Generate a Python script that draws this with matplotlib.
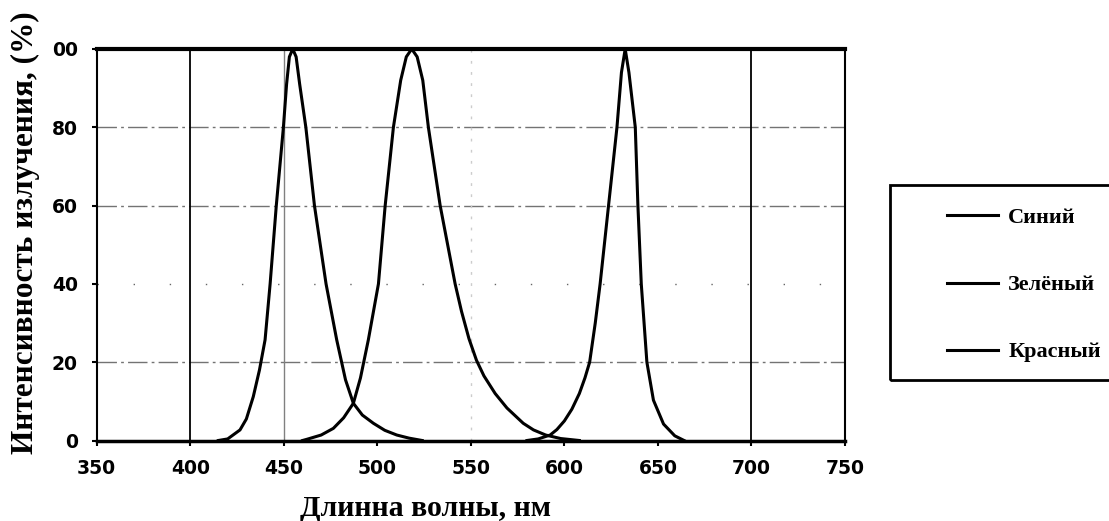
import matplotlib
matplotlib.use("Agg")
from matplotlib import pyplot as plt
from matplotlib.patches import Rectangle

# spectra (wavelength nm, intensity %)
blue_wl = [415, 420, 426.6, 430, 433.7, 437, 440, 442.7, 446, 449.8, 451.5, 453, 454.8,
           456.6, 458.5, 461.8, 466.4, 472.6, 478.3, 483, 487.2, 492, 497.9, 504, 510.4,
           517, 524]
blue_val = [0, 0.4, 2.7, 5.5, 11.2, 18, 25.7, 40, 60, 80, 91, 98, 100,
            98, 91, 80, 60, 40, 25.7, 15.5, 9.5, 6.5, 4.4, 2.6, 1.4,
            0.6, 0]

green_wl = [460, 462.3, 470, 476.5, 482, 487.2, 491, 495.2, 500.6, 504.2, 508.6, 512.5,
            515.5, 518.4, 521.3, 524.3, 527.3, 533.6, 541.6, 545, 549, 553, 557, 563,
            569.3, 578, 583.5, 590, 598, 608]
green_val = [0, 0.3, 1.4, 3.1, 5.8, 9.5, 16, 25.7, 40, 60, 80, 92,
             98, 100, 98, 92, 80, 60, 40, 33, 26, 20.5, 16.5, 12,
             8.3, 4.4, 2.7, 1.4, 0.5, 0]

red_wl = [580, 586, 592.4, 596, 600, 604, 608, 611, 613.5, 616.5, 619.1, 623.6, 628.1,
          630.5, 632.5, 634.5, 637.9, 639.3, 641.1, 644.1, 647.6, 653, 659, 664]
red_val = [0, 0.4, 1.4, 2.8, 5, 8, 12, 16, 20, 30, 40, 60, 80,
           94, 100, 94, 80, 60, 40, 20, 10.3, 4.2, 1.2, 0]

series_names = ["Синий", "Зелёный", "Красный"]
x_ticks = [350, 400, 450, 500, 550, 600, 650, 700, 750]
y_ticks = [0, 20, 40, 60, 80, 100]
y_tick_labels = ["0", "20", "40", "60", "80", "00"]

fig = plt.figure(figsize=(11.09, 5.21), dpi=100)
ax = fig.add_axes([96.7 / 1109, 1 - 440.5 / 521, (845 - 96.7) / 1109, (440.5 - 49) / 521])

# grid, drawn by hand to follow the scanned look
for yv in [20, 60, 80]:
    ax.axhline(yv, color="0.45", lw=1.0, ls=(0, (14, 3, 2, 3)), zorder=1)
ax.axhline(40, color="0.4", lw=1.0, ls=(0, (1, 25)), zorder=1)
for xv in [400, 700]:
    ax.axvline(xv, color="black", lw=1.3, zorder=1)
ax.axvline(450, color="0.5", lw=1.0, zorder=1)
ax.axvline(550, color="0.8", lw=1.0, ls=(0, (2, 6)), zorder=1)

lines = []
for wl, val, name in [(blue_wl, blue_val, series_names[0]),
                      (green_wl, green_val, series_names[1]),
                      (red_wl, red_val, series_names[2])]:
    ln, = ax.plot(wl, val, color="black", lw=2.2, label=name, zorder=3,
                  solid_joinstyle="round")
    lines.append(ln)

ax.set_xlim(350, 750)
ax.set_ylim(0, 100)
ax.set_xticks(x_ticks)
ax.set_xticklabels([str(t) for t in x_ticks])
ax.set_yticks(y_ticks)
ax.set_yticklabels(y_tick_labels)
ax.tick_params(direction="out", length=3.6, width=1.5, labelsize=13.5, pad=10)
for lab in ax.get_xticklabels() + ax.get_yticklabels():
    lab.set_fontweight("bold")

ax.spines["top"].set_linewidth(3)
ax.spines["bottom"].set_linewidth(2.5)
ax.spines["left"].set_linewidth(1.5)
ax.spines["right"].set_linewidth(1.5)

fig.text(426 / 1109, 1 - 508 / 521, "Длинна волны, нм", family="Liberation Serif",
         fontweight="bold", fontsize=21.5, ha="center", va="center")
fig.text(25 / 1109, 1 - 233 / 521, "Интенсивность излучения, (%)", family="Liberation Serif",
         fontweight="bold", fontsize=22.5, rotation=90, ha="center", va="center")

# legend box runs off the right edge like in the reference
fig.patches.append(Rectangle((890 / 1109, 1 - 380 / 521), 0.3, (380 - 185) / 521,
                             transform=fig.transFigure, fill=False, ec="black", lw=2))
leg = fig.legend(handles=lines, loc="center left", bbox_to_anchor=(947 / 1109, 1 - 285 / 521),
                 frameon=False, borderpad=0, borderaxespad=0, handlelength=2.3,
                 handletextpad=0.45, labelspacing=2.1,
                 prop={"family": "Liberation Serif", "weight": "bold", "size": 16})

fig.savefig("out.png", dpi=100)
